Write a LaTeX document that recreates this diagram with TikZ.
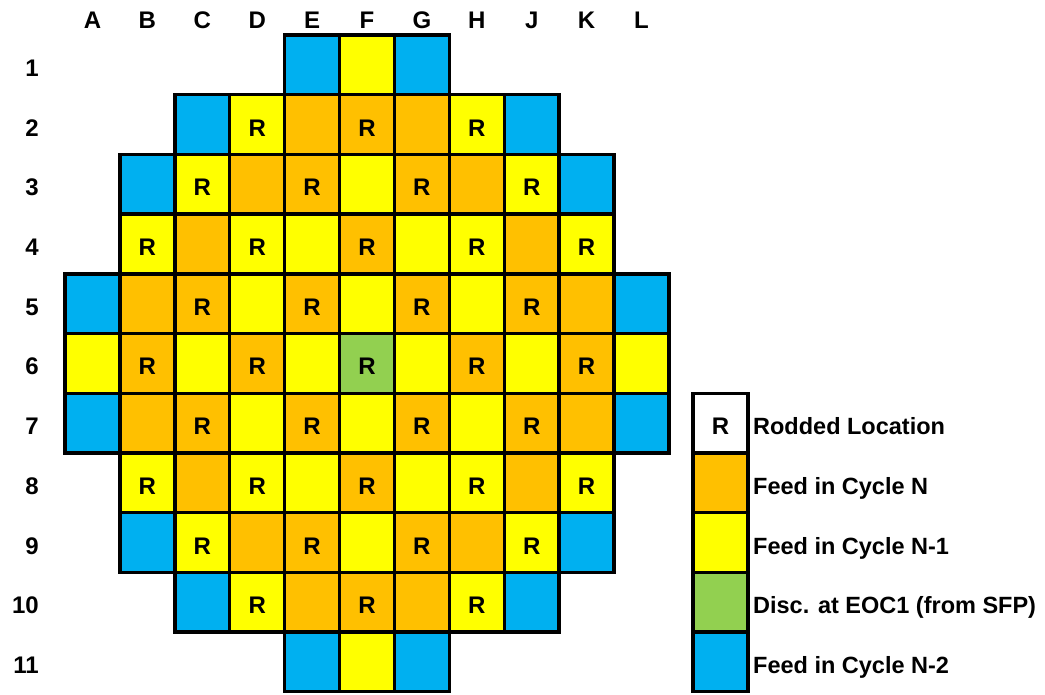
\documentclass[tikz,border=0pt]{standalone}
\usepackage{fontspec}
\setmainfont{Liberation Sans}
\usetikzlibrary{positioning}

\definecolor{feedN}{HTML}{FFC000}
\definecolor{feedNone}{HTML}{FFFF00}
\definecolor{feedNtwo}{HTML}{00B0F0}
\definecolor{discEOC}{HTML}{92D050}

\newcommand{\assemblyrow}[3]{%
    \foreach [count=\i from #2] \f/\t in {#3} {
            \pgfmathsetmacro{\c}{{"A","B","C","D","E","F","G","H","J","K","L"}[\i-1]}
            \node[assembly, fill=\f] (\c#1) at (col\c |- row#1) {\t};
        }%
}

\begin{document}
\begin{tikzpicture}[
            x=1pt, y=-1pt,
            every node/.style={font=\fontsize{24}{28}\selectfont\bfseries,
                    text height=23.2pt, text depth=0pt},
            assembly/.style={draw, line width=3.4pt, outer sep=0pt, inner sep=0pt,
                    minimum width=54.9pt, minimum height=59.7pt},
            legend text/.style={inner sep=3pt, font=\fontsize{23.5}{28}\selectfont\bfseries}
        ]
        \useasboundingbox (0,0) rectangle (1045,694);

        \foreach [count=\i] \c in {A,B,C,D,E,F,G,H,J,K,L} {
                \node (col\c) at ({92.5+54.9*(\i-1)},16.5) {\c};
            }
        \foreach \r in {1,...,11} {
                \node[anchor=east, inner sep=0pt] (row\r) at (39,{64.85+59.7*(\r-1)}) {\r};
            }

        \assemblyrow{1}{5}{feedNtwo/,feedNone/,feedNtwo/}
        \assemblyrow{2}{3}{feedNtwo/,feedNone/R,feedN/,feedN/R,feedN/,feedNone/R,feedNtwo/}
        \assemblyrow{3}{2}{feedNtwo/,feedNone/R,feedN/,feedN/R,feedNone/,feedN/R,feedN/,feedNone/R,feedNtwo/}
        \assemblyrow{4}{2}{feedNone/R,feedN/,feedNone/R,feedNone/,feedN/R,feedNone/,feedNone/R,feedN/,feedNone/R}
        \assemblyrow{5}{1}{feedNtwo/,feedN/,feedN/R,feedNone/,feedN/R,feedNone/,feedN/R,feedNone/,feedN/R,feedN/,feedNtwo/}
        \assemblyrow{6}{1}{feedNone/,feedN/R,feedNone/,feedN/R,feedNone/,discEOC/R,feedNone/,feedN/R,feedNone/,feedN/R,feedNone/}
        \assemblyrow{7}{1}{feedNtwo/,feedN/,feedN/R,feedNone/,feedN/R,feedNone/,feedN/R,feedNone/,feedN/R,feedN/,feedNtwo/}
        \assemblyrow{8}{2}{feedNone/R,feedN/,feedNone/R,feedNone/,feedN/R,feedNone/,feedNone/R,feedN/,feedNone/R}
        \assemblyrow{9}{2}{feedNtwo/,feedNone/R,feedN/,feedN/R,feedNone/,feedN/R,feedN/,feedNone/R,feedNtwo/}
        \assemblyrow{10}{3}{feedNtwo/,feedNone/R,feedN/,feedN/R,feedN/,feedNone/R,feedNtwo/}
        \assemblyrow{11}{5}{feedNtwo/,feedNone/,feedNtwo/}

        \node[assembly, fill=white] (keyR) at (720.5,{64.85+59.7*6}) {R};
        \node[assembly, fill=feedN, below=0pt of keyR] (keyN) {};
        \node[assembly, fill=feedNone, below=0pt of keyN] (keyNone) {};
        \node[assembly, fill=discEOC, below=0pt of keyNone] (keyDisc) {};
        \node[assembly, fill=feedNtwo, below=0pt of keyDisc] (keyNtwo) {};

        \node[legend text, right=2pt of keyR] (txtR) {Rodded Location};
        \node[legend text, right=2pt of keyN] (txtN) {Feed in Cycle N};
        \node[legend text, right=2pt of keyNone] (txtNone) {Feed in Cycle N-1};
        \node[legend text, right=2pt of keyDisc] (txtDisc) {Disc. at EOC1 (from SFP)};
        \node[legend text, right=2pt of keyNtwo] (txtNtwo) {Feed in Cycle N-2};

    \end{tikzpicture}
\end{document}
